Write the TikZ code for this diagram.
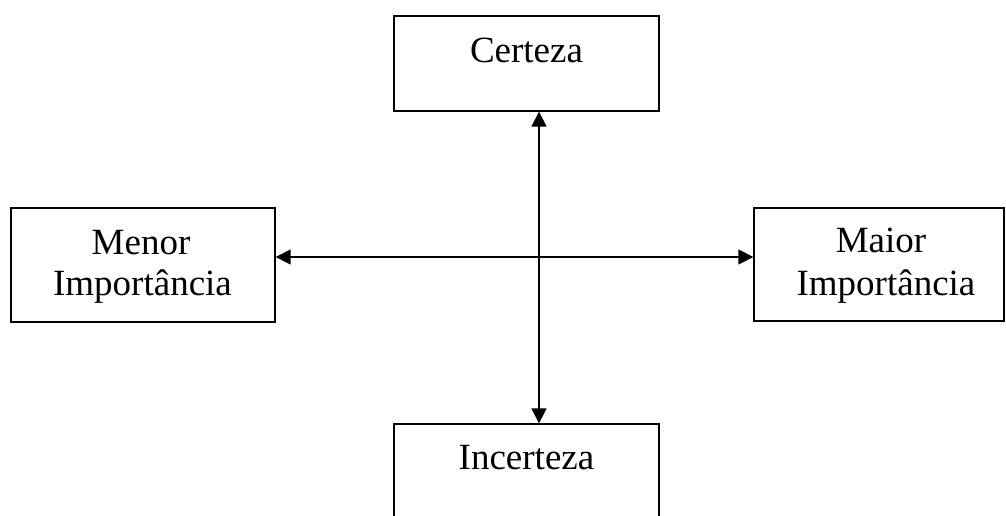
\documentclass[tikz,border=0pt]{standalone}
\usepackage{fontspec}
\setmainfont{Liberation Serif}
\usetikzlibrary{arrows.meta,calc}
\begin{document}
\begin{tikzpicture}[x=1pt,y=-1pt,
  box/.style={draw,line width=1.3pt,rectangle,inner sep=0pt},
  lbl/.style={font=\fontsize{37}{41}\selectfont,inner sep=0pt,anchor=base,align=center},
  arr/.style={line width=1.4pt,{Triangle[length=15pt,width=15pt]}-{Triangle[length=15pt,width=15pt]}}]
\useasboundingbox (0,0) rectangle (1006,515);
\node[box,minimum width=265pt,minimum height=95pt] (cer) at (526.5,63.5) {};
\node[box,minimum width=264pt,minimum height=114pt] (men) at (143,265) {};
\node[box,minimum width=250pt,minimum height=113pt] (mai) at (879,264.5) {};
\node[box,minimum width=265pt,minimum height=95pt] (inc) at (526.5,471.5) {};
\node[lbl] (tcer) at (526.5,62) {Certeza};
\node[lbl] (tmen1) at (141,254) {Menor};
\node[lbl] (tmen2) at (142.5,295) {Importância};
\node[lbl] (tmai1) at (881,252) {Maior};
\node[lbl] (tmai2) at (886,295) {Importância};
\node[lbl] (tinc) at (526.5,469) {Incerteza};
\coordinate (cx) at (539,257);
\draw[arr] (cx |- cer.south) -- (cx |- inc.north);
\draw[arr] (men.east |- cx) -- (mai.west |- cx);
\end{tikzpicture}
\end{document}
